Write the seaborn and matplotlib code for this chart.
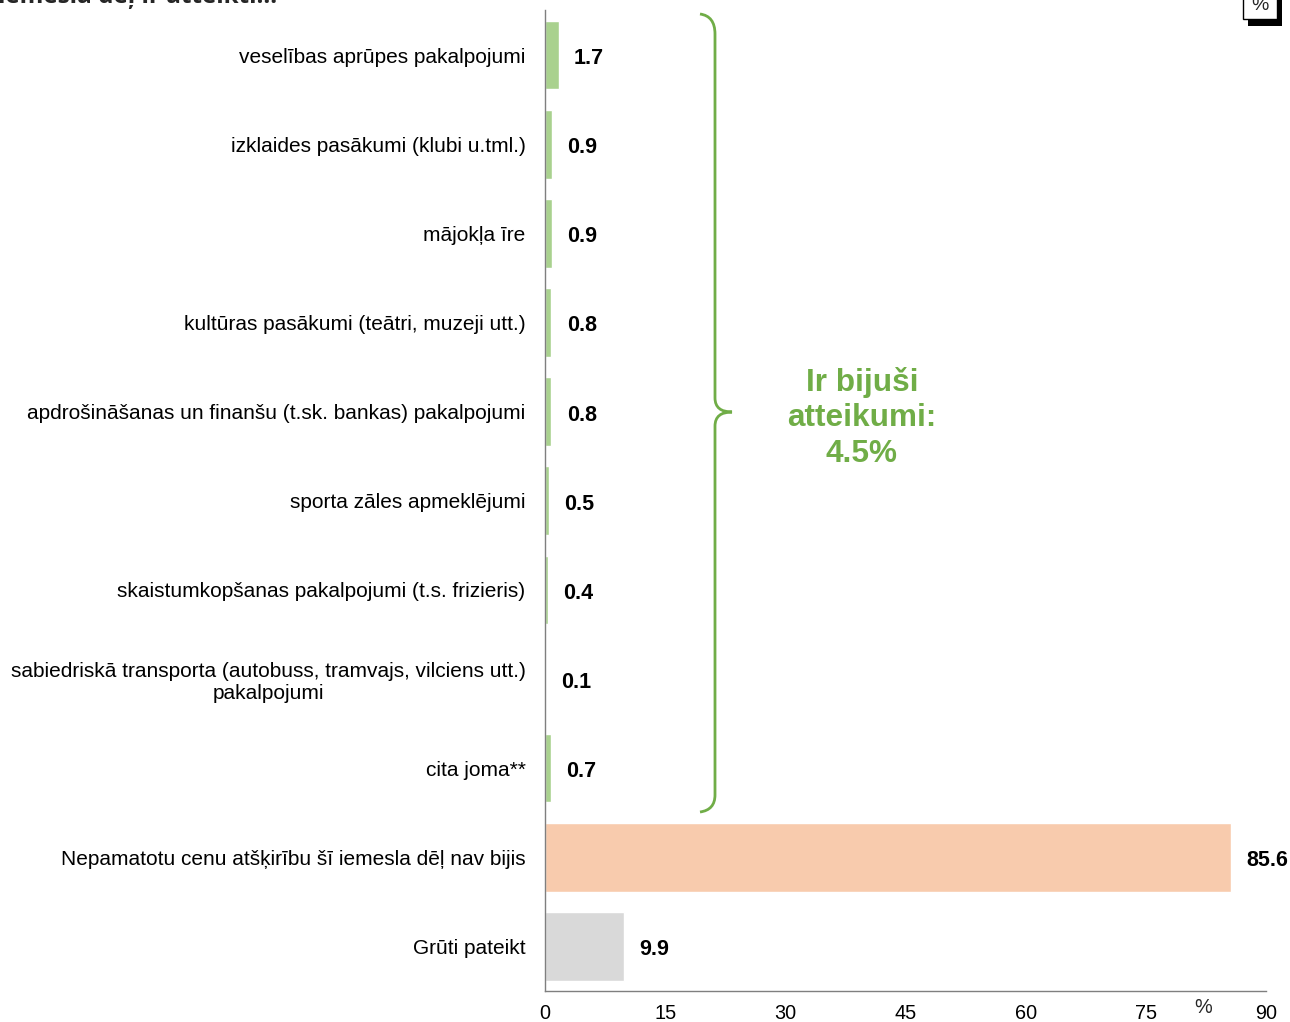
import matplotlib
matplotlib.use("Agg")
import matplotlib.pyplot as plt
import seaborn as sns
from matplotlib.path import Path
from matplotlib.patches import PathPatch, Rectangle

categories = [
    "veselības aprūpes pakalpojumi",
    "izklaides pasākumi (klubi u.tml.)",
    "mājokļa īre",
    "kultūras pasākumi (teātri, muzeji utt.)",
    "apdrošināšanas un finanšu (t.sk. bankas) pakalpojumi",
    "sporta zāles apmeklējumi",
    "skaistumkopšanas pakalpojumi (t.s. frizieris)",
    "sabiedriskā transporta (autobuss, tramvajs, vilciens utt.)\npakalpojumi",
    "cita joma**",
    "Nepamatotu cenu atšķirību šī iemesla dēļ nav bijis",
    "Grūti pateikt",
]
values = [1.7, 0.9, 0.9, 0.8, 0.8, 0.5, 0.4, 0.1, 0.7, 85.6, 9.9]
bar_colors = ["#A9D18E"] * 9 + ["#F8CBAD", "#D9D9D9"]
x_ticks = [0, 15, 30, 45, 60, 75, 90]

sns.set_style("white")
plt.rcParams["font.family"] = ["Liberation Sans", "DejaVu Sans"]

W, H = 1290, 1022
fig = plt.figure(figsize=(W / 100, H / 100), dpi=100)
ax = fig.add_axes([545 / W, 1 - 991 / H, (1266 - 545) / W, (991 - 10.5) / H])

sns.barplot(x=values, y=categories, hue=categories, palette=bar_colors,
            legend=False, orient="h", width=0.77, saturation=1, ax=ax)

ax.set_xlim(0, 90)
ax.set_ylim(len(categories) - 0.5, -0.5)
ax.set_xticks(x_ticks)
ax.set_xlabel("")
ax.set_ylabel("")

# y labels at bar centres, ticks at category boundaries
ax.set_yticks(range(len(categories)))
ax.set_yticklabels(categories, fontsize=15, multialignment="center", color="#000000")
ax.tick_params(axis="y", which="major", length=0, pad=14)
ax.set_yticks([i - 0.5 for i in range(len(categories) + 1)], minor=True)
ax.tick_params(axis="y", which="minor", length=5, width=1, color="#000000", direction="out")
ax.tick_params(axis="x", length=5, width=1, color="#000000", labelsize=14.3, pad=7,
               direction="inout", labelcolor="#000000")

for s in ["top", "right"]:
    ax.spines[s].set_visible(False)
for s in ["left", "bottom"]:
    ax.spines[s].set_color("#7f7f7f")
    ax.spines[s].set_linewidth(1)

# value labels
for i, v in enumerate(values):
    ax.annotate(f"{v:.1f}", xy=(v, i), xytext=(11, -2.5), textcoords="offset points",
                ha="left", va="center", fontsize=15.5, fontweight="bold", color="#000000")

ax.text(82.1, -16 / 980.5, "%", transform=ax.get_xaxis_transform(), ha="center",
        va="center", fontsize=14.3)

# clipped title at top-left
fig.text(-2 / W, 1 + 3 / H, "iemesla dēļ ir atteikti...", ha="left", va="center",
         fontsize=17.5, fontweight="bold", family=["Open Sans", "DejaVu Sans"])

# "%" box with shadow at top-right
def fx(x):
    return x / W

def fy(y):
    return 1 - y / H

fig.patches.append(Rectangle((fx(1248), fy(26)), 34 / W, 40 / H, transform=fig.transFigure,
                             facecolor="#000000", edgecolor="none"))
fig.patches.append(Rectangle((fx(1243), fy(19)), 34 / W, 40 / H, transform=fig.transFigure,
                             facecolor="white", edgecolor="#000000", linewidth=1))
fig.text(fx(1260), fy(5), "%", ha="center", va="center", fontsize=14)

# green brace
pts = [(700, 14), (715, 16), (715, 34), (715, 398), (715, 412), (732, 412),
       (715, 412), (715, 426), (715, 795), (715, 810), (700, 812)]
codes = [Path.MOVETO, Path.CURVE3, Path.CURVE3, Path.LINETO, Path.CURVE3, Path.CURVE3,
         Path.CURVE3, Path.CURVE3, Path.LINETO, Path.CURVE3, Path.CURVE3]
brace = Path([(fx(x), fy(y)) for x, y in pts], codes)
fig.patches.append(PathPatch(brace, transform=fig.transFigure, facecolor="none",
                             edgecolor="#70AD47", linewidth=2))

fig.text(fx(862), fy(418), "Ir bijuši\natteikumi:\n4.5%", ha="center", va="center",
         fontsize=22.7, fontweight="bold", color="#70AD47", linespacing=1.23)

fig.savefig("out.png", dpi=100)
